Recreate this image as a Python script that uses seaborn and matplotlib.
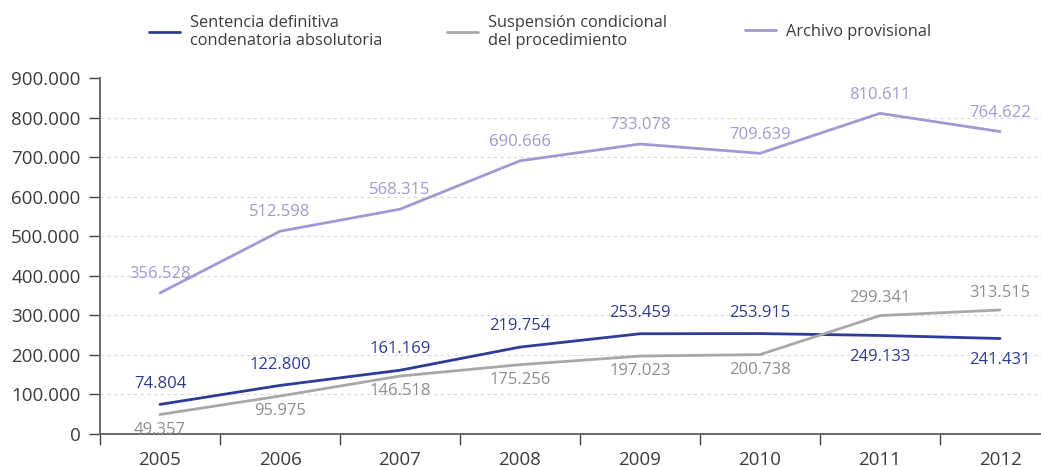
import matplotlib
matplotlib.use("Agg")
import matplotlib.pyplot as plt
import seaborn as sns
import pandas as pd

# ---- data ----
years = ["2005", "2006", "2007", "2008", "2009", "2010", "2011", "2012"]
sentencia = [74804, 122800, 161169, 219754, 253459, 253915, 249133, 241431]
suspension = [49357, 95975, 146518, 175256, 197023, 200738, 299341, 313515]
archivo = [356528, 512598, 568315, 690666, 733078, 709639, 810611, 764622]
series_names = [
    "Sentencia definitiva\ncondenatoria absolutoria",
    "Suspensión condicional\ndel procedimiento",
    "Archivo provisional",
]
y_ticks = [0, 100000, 200000, 300000, 400000, 500000, 600000, 700000, 800000, 900000]

line_colors = ["#2f3b98", "#a8a8a8", "#9f9ad3"]
text_colors = ["#2f3b98", "#8e8e8e", "#9f9ad3"]

sns.set_theme(style="white")
plt.rcParams['font.family'] = ['Open Sans', 'DejaVu Sans']

def fmt(v):
    return f"{v:,}".replace(",", ".")

values = [sentencia, suspension, archivo]
df = pd.DataFrame({
    "idx": list(range(len(years))) * 3,
    "value": sentencia + suspension + archivo,
    "serie": [n for n in series_names for _ in years],
})

fig = plt.figure(figsize=(10.41, 4.67), dpi=100)
ax = fig.add_axes([100 / 1041, 1 - 434 / 467, 960 / 1041, (434 - 78) / 467])

sns.lineplot(data=df, x="idx", y="value", hue="serie", hue_order=series_names,
             palette=dict(zip(series_names, line_colors)), linewidth=2.0,
             ax=ax, legend=False)

ax.set_xlim(-0.5, len(years) - 0.5)
ax.set_ylim(0, 900000)
ax.set_xlabel("")
ax.set_ylabel("")

# y axis
ax.set_yticks(y_ticks)
ax.set_yticklabels([fmt(t) for t in y_ticks])
ax.tick_params(axis="y", direction="out", length=8, width=1, color="#444444",
               pad=6, labelsize=13.5, labelcolor="#3c3c3c", left=True)

# x axis: labels at centers, ticks at boundaries
ax.set_xticks(range(len(years)))
ax.set_xticklabels(years)
ax.set_xticks([i - 0.5 for i in range(len(years) + 1)], minor=True)
ax.tick_params(axis="x", which="major", length=0, pad=12, labelsize=13.5,
               labelcolor="#3c3c3c")
ax.tick_params(axis="x", which="minor", direction="out", length=8, width=1,
               color="#444444", bottom=True)

for s in ["top", "right"]:
    ax.spines[s].set_visible(False)
for s in ["left", "bottom"]:
    ax.spines[s].set_color("#6a6a6a")
    ax.spines[s].set_linewidth(1.4)

ax.yaxis.grid(True, color="#d9d9d9", linestyle=(0, (3, 3)), linewidth=0.8)
ax.xaxis.grid(False)
ax.set_axisbelow(True)
gl = ax.get_ygridlines()
gl[0].set_visible(False)
gl[-1].set_visible(False)

# value labels
for si, vals in enumerate(values):
    for i, v in enumerate(vals):
        if si == 0:
            off = 15 if i < 6 else -15.5
        elif si == 1:
            off = -11 if i < 6 else 12.5
        else:
            off = 13.5
        ax.annotate(fmt(v), (i, v), xytext=(0, off), textcoords="offset points",
                    ha="center", va="center", fontsize=12, color=text_colors[si])

# legend: three single-entry legends placed in a row
handles = ax.get_lines()[:3]
leg_x = [149, 447, 745]
for h, name, x in zip(handles, series_names, leg_x):
    fig.legend([h], [name], loc="center left",
               bbox_to_anchor=(x / 1041, 1 - 32 / 467),
               frameon=False, fontsize=11.8, handlelength=1.9,
               handletextpad=0.6, borderpad=0, borderaxespad=0,
               labelcolor="#3c3c3c")

fig.savefig("out.png", dpi=100)
